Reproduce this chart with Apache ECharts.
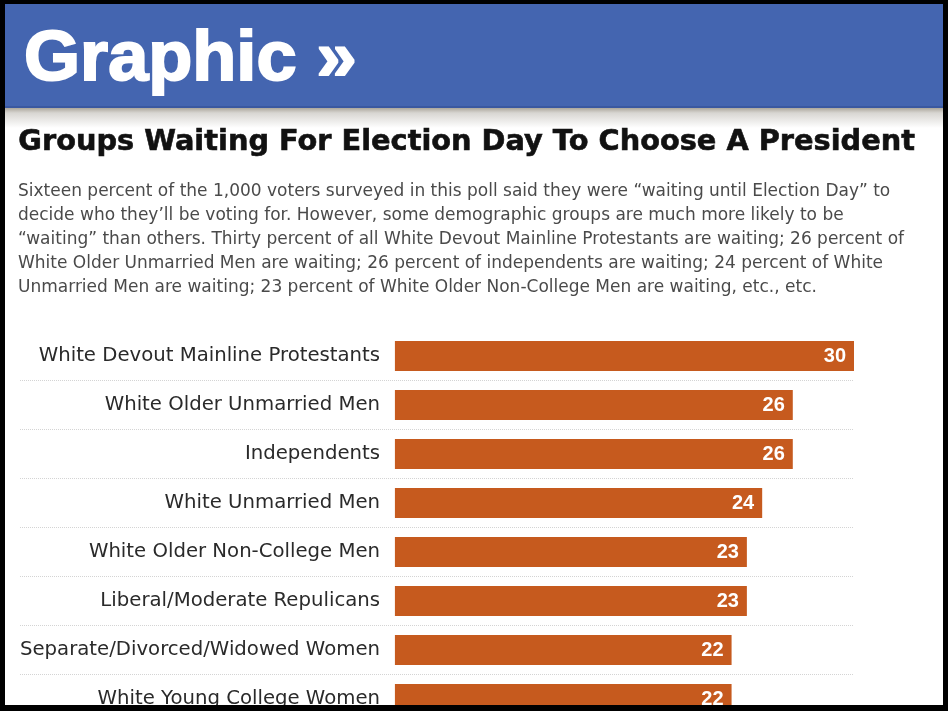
<!DOCTYPE html>
<html>
<head>
<meta charset="utf-8">
<script src="https://cdn.jsdelivr.net/npm/echarts@6/dist/echarts.min.js"></script>
<style>
  html, body { margin: 0; padding: 0; background: #000; overflow: hidden; }
  /* taller than the window: the last bar row is cut off like in the original graphic */
  #chart { width: 948px; height: 730px; }
</style>
</head>
<body>
<div id="chart"></div>
<script>
const groups = [
  'White Devout Mainline Protestants',
  'White Older Unmarried Men',
  'Independents',
  'White Unmarried Men',
  'White Older Non-College Men',
  'Liberal/Moderate Repulicans',
  'Separate/Divorced/Widowed Women',
  'White Young College Women'
];
const waitingPct = [30, 26, 26, 24, 23, 23, 22, 22];

const headerText = 'Graphic \u00bb';
const chartTitle = 'Groups Waiting For Election Day To Choose A President';
const introLines = [
  'Sixteen percent of the 1,000 voters surveyed in this poll said they were \u201cwaiting until Election Day\u201d to',
  'decide who they\u2019ll be voting for. However, some demographic groups are much more likely to be',
  '\u201cwaiting\u201d than others. Thirty percent of all White Devout Mainline Protestants are waiting; 26 percent of',
  'White Older Unmarried Men are waiting; 26 percent of independents are waiting; 24 percent of White',
  'Unmarried Men are waiting; 23 percent of White Older Non-College Men are waiting, etc., etc.'
];

const chart = echarts.init(document.getElementById('chart'));

const option = {
  backgroundColor: '#ffffff',
  animation: false,
  graphic: [
    // header band
    { type: 'rect', shape: { x: 0, y: 0, width: 948, height: 108 }, style: { fill: '#4465b0' }, z: 1 },
    { type: 'rect', shape: { x: 0, y: 106, width: 948, height: 2 }, style: { fill: '#3a58a0' }, z: 1 },
    {
      type: 'rect', shape: { x: 0, y: 108, width: 948, height: 20 }, z: 1,
      style: {
        fill: new echarts.graphic.LinearGradient(0, 0, 0, 1, [
          { offset: 0, color: '#aca79c' },
          { offset: 0.25, color: '#d8d6d2' },
          { offset: 1, color: '#ffffff' }
        ])
      }
    },
    {
      type: 'text', left: 23, top: 25, z: 5, scaleX: 1.03,
      style: {
        text: headerText, fill: '#ffffff', stroke: '#ffffff', lineWidth: 2,
        font: 'bold 70px "Liberation Sans", Arial, sans-serif'
      }
    },
    {
      type: 'text', left: 18, top: 128, z: 5,
      style: {
        text: chartTitle, fill: '#111111', stroke: '#111111', lineWidth: 0.6,
        font: 'bold 28.8px "DejaVu Sans", sans-serif'
      }
    },
    {
      type: 'text', left: 18, top: 179, z: 5,
      style: {
        text: introLines.join('\n'),
        fill: '#4a4a4a',
        font: '17px "DejaVu Sans", sans-serif',
        lineHeight: 24.2
      }
    },
    // black frame
    { type: 'rect', shape: { x: 0, y: 0, width: 948, height: 4 }, style: { fill: '#000' }, z: 100 },
    { type: 'rect', shape: { x: 0, y: 0, width: 5, height: 730 }, style: { fill: '#000' }, z: 100 },
    { type: 'rect', shape: { x: 943, y: 0, width: 5, height: 730 }, style: { fill: '#000' }, z: 100 },
    { type: 'rect', shape: { x: 0, y: 705, width: 948, height: 25 }, style: { fill: '#000' }, z: 100 }
  ],
  grid: {
    left: 20,
    right: 94,
    top: 331.5,
    height: 392
  },
  xAxis: {
    type: 'value',
    min: -24.5,
    max: 30,
    show: false
  },
  yAxis: {
    type: 'category',
    data: groups,
    inverse: true,
    offset: -375,
    axisLine: { show: false },
    axisTick: { show: false },
    axisLabel: {
      margin: 15,
      color: '#2a2a2a',
      fontSize: 19.7,
      fontFamily: '"DejaVu Sans", sans-serif'
    },
    splitLine: {
      show: true,
      interval: (index) => index > 0,
      lineStyle: { color: '#d4d4d4', type: 'dotted', width: 1 }
    }
  },
  series: [
    {
      type: 'bar',
      data: waitingPct,
      barWidth: 30,
      itemStyle: { color: '#c65a1e' },
      label: {
        show: true,
        position: 'insideRight',
        distance: 8,
        color: '#ffffff',
        fontSize: 20,
        fontWeight: 'bold',
        fontFamily: '"Liberation Sans", Arial, sans-serif'
      }
    }
  ]
};

chart.setOption(option);
</script>
</body>
</html>
